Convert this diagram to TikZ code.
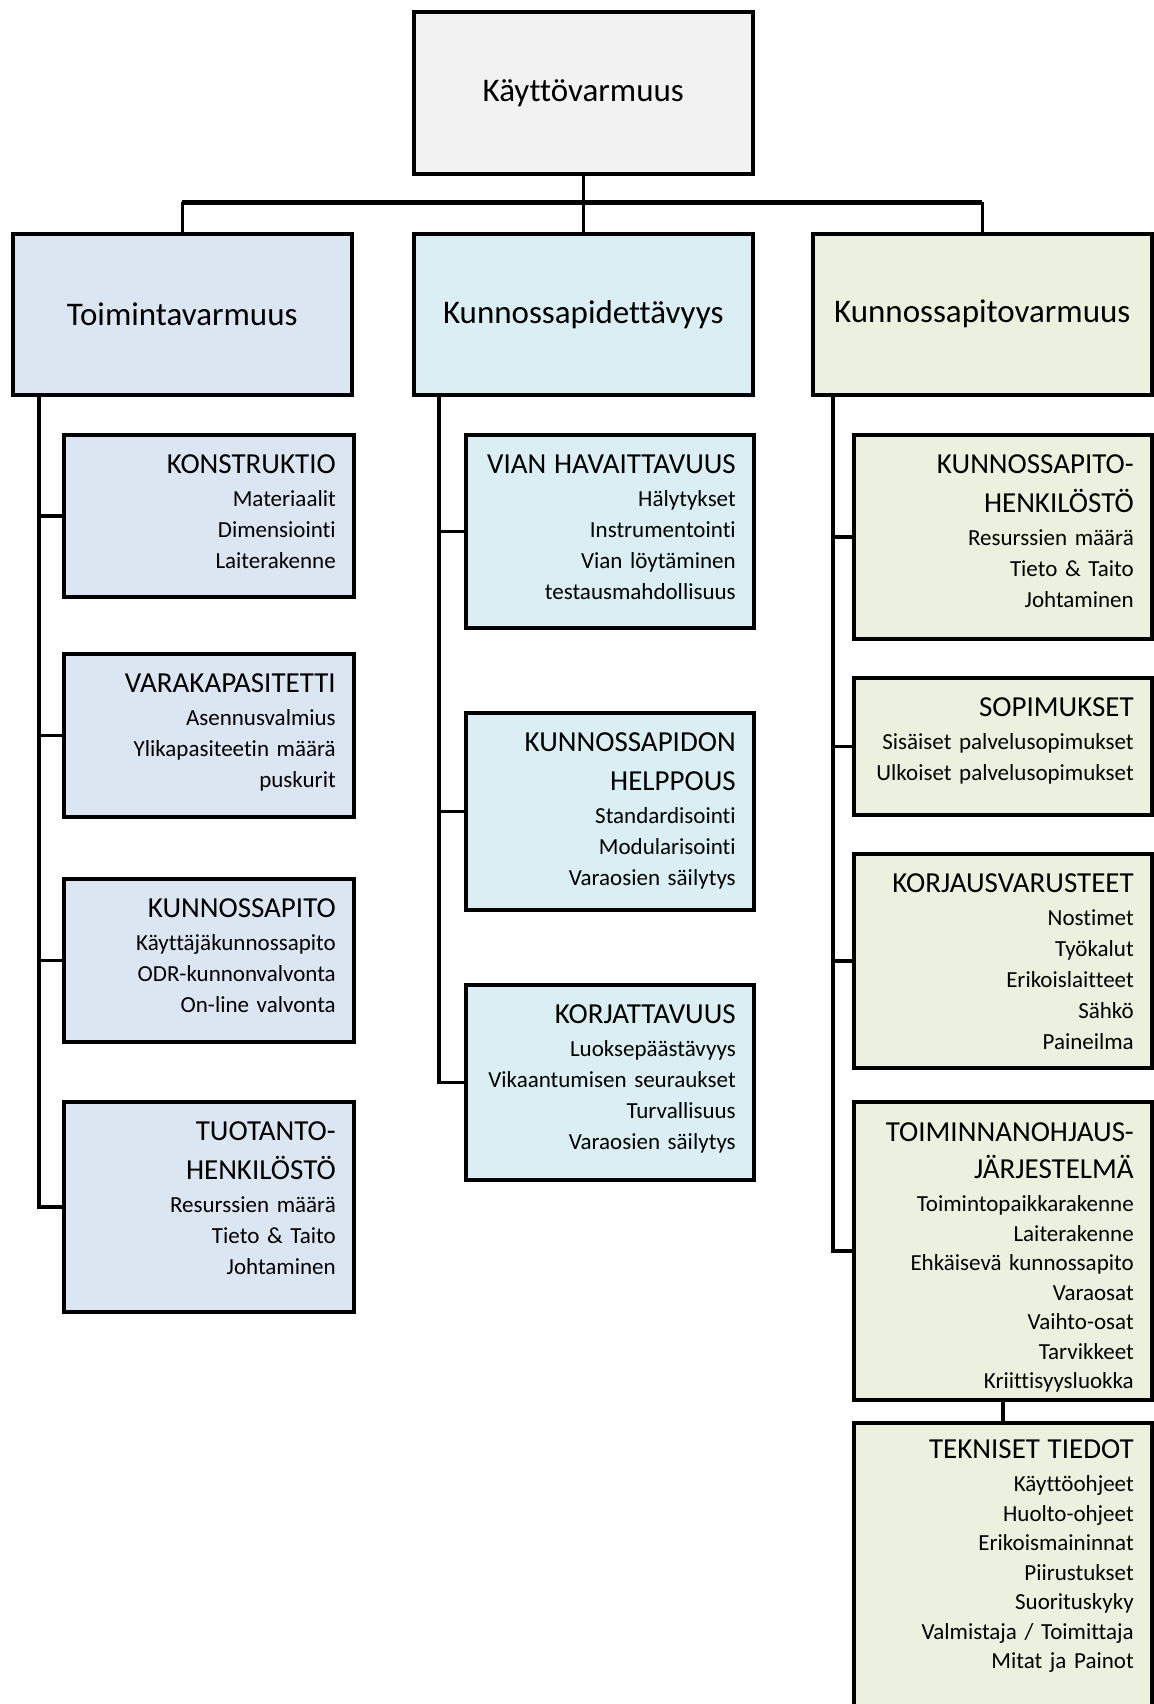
\documentclass[tikz,border=0pt]{standalone}
\usepackage{fontspec}
\setmainfont[Ligatures=CommonOff]{Carlito}
\usepackage{tikz}

\definecolor{topgray}{HTML}{F2F2F2}
\definecolor{leftblue}{HTML}{DCE6F2}
\definecolor{midcyan}{HTML}{DAEEF3}
\definecolor{rightolive}{HTML}{EBF1DE}

\newcommand{\boxhead}[1]{{\fontsize{14.5}{15.5}\selectfont #1}}

\tikzset{
  mainbox/.style={draw,line width=1.75pt,fill=#1,anchor=north west,minimum width=169.5pt,
    minimum height=80.5pt,inner sep=2pt,font=\fontsize{16.5}{20}\selectfont},
  subbox/.style={draw,line width=1.75pt,fill=#1,anchor=north west,align=right,
    inner xsep=9pt,inner ysep=2pt,text height=0pt,font=\fontsize{11.5}{15.5}\selectfont},
  leftbox/.style={subbox=leftblue,text width=127pt},
  midbox/.style={subbox=midcyan,text width=126pt},
  rightbox/.style={subbox=rightolive,text width=131pt},
  tightbox/.style={font=\fontsize{11.5}{14.75}\selectfont},
  link/.style={line width=1.75pt},
  busline/.style={line width=2.5pt},
}

\begin{document}
\begin{tikzpicture}[x=0.5pt,y=-0.5pt]
    \useasboundingbox (0,0) rectangle (1153,1704);
    % top level
    \node[mainbox=topgray,minimum height=81pt] (kayttovarmuus) at (412,10) {Käyttövarmuus};
    \node[mainbox=leftblue] (toimintavarmuus) at (11,232) {Toimintavarmuus};
    \node[mainbox=midcyan] (kpdettavyys) at (412,232) {Kunnossapidettävyys};
    \node[mainbox=rightolive] (kpvarmuus) at (811,232) {Kunnossapitovarmuus};
    % left column
    \node[leftbox,minimum height=81pt,text depth=42pt] (konstruktio) at (62,433)
      {\boxhead{KONSTRUKTIO}\\[1pt] Materiaalit\\ Dimensiointi\\ Laiterakenne};
    \node[leftbox,minimum height=81.5pt,text depth=42.5pt] (varakapasiteetti) at (62,652)
      {\boxhead{VARAKAPASITETTI}\\[1pt] Asennusvalmius\\ Ylikapasiteetin määrä\\ puskurit};
    \node[leftbox,minimum height=81.5pt,text depth=42.5pt] (kunnossapito) at (62,877)
      {\boxhead{KUNNOSSAPITO}\\[1pt] Käyttäjäkunnossapito\\ ODR-kunnonvalvonta\\ On-line valvonta};
    \node[leftbox,minimum height=105pt,text depth=66pt] (tuotanto) at (62,1100)
      {\boxhead{TUOTANTO-}\\[4pt] \boxhead{HENKILÖSTÖ}\\[1pt] Resurssien määrä\\ Tieto \& Taito\\ Johtaminen};
    % middle column
    \node[midbox,minimum height=96.5pt,text depth=57.5pt] (vian) at (464,433)
      {\boxhead{VIAN HAVAITTAVUUS}\\[1pt] Hälytykset\\ Instrumentointi\\ Vian löytäminen\\ testausmahdollisuus};
    \node[midbox,minimum height=98.5pt,text depth=59.5pt] (helppous) at (464,711)
      {\boxhead{KUNNOSSAPIDON}\\[4pt] \boxhead{HELPPOUS}\\[1pt] Standardisointi\\ Modularisointi\\ Varaosien säilytys};
    \node[midbox,minimum height=97.5pt,text depth=58.5pt] (korjattavuus) at (464,983)
      {\boxhead{KORJATTAVUUS}\\[1pt] Luoksepäästävyys\\ Vikaantumisen seuraukset\\ Turvallisuus\\ Varaosien säilytys};
    % right column
    \node[rightbox,minimum height=102pt,text depth=63pt] (kphenkilosto) at (852,433)
      {\boxhead{KUNNOSSAPITO-}\\[4pt] \boxhead{HENKILÖSTÖ}\\[1pt] Resurssien määrä\\ Tieto \& Taito\\ Johtaminen};
    \node[rightbox,minimum height=68.5pt,text depth=29.5pt] (sopimukset) at (852,676)
      {\boxhead{SOPIMUKSET}\\[1pt] Sisäiset palvelusopimukset\\ Ulkoiset palvelusopimukset};
    \node[rightbox,minimum height=107pt,text depth=68pt] (korjausvarusteet) at (852,852)
      {\boxhead{KORJAUSVARUSTEET}\\[1pt] Nostimet\\ Työkalut\\ Erikoislaitteet\\ Sähkö\\ Paineilma};
    \node[rightbox,tightbox,minimum height=149pt,text depth=109pt] (toiminnanohjaus) at (852,1100)
      {\boxhead{TOIMINNANOHJAUS-}\\[3.75pt] \boxhead{JÄRJESTELMÄ}\\[1.75pt] Toimintopaikkarakenne\\ Laiterakenne\\
       Ehkäisevä kunnossapito\\ Varaosat\\ Vaihto-osat\\ Tarvikkeet\\ Kriittisyysluokka};
    \node[rightbox,tightbox,minimum height=154.5pt,text depth=118.5pt] (tekniset) at (852,1421)
      {\boxhead{TEKNISET TIEDOT}\\[1.75pt] Käyttöohjeet\\ Huolto-ohjeet\\ Erikoismaininnat\\ Piirustukset\\
       Suorituskyky\\ Valmistaja / Toimittaja\\ Mitat ja Painot};
    % connectors
    \coordinate (bus) at (0,202);
    \coordinate (lspine) at (39,0);
    \coordinate (mspine) at (439,0);
    \coordinate (rspine) at (833,0);
    \draw[link] (kayttovarmuus.south) -- (kpdettavyys.north);
    \draw[busline] (toimintavarmuus.north |- bus) -- (kpvarmuus.north |- bus);
    \draw[link] (toimintavarmuus.north |- bus) -- (toimintavarmuus.north);
    \draw[link] (kpvarmuus.north |- bus) -- (kpvarmuus.north);
    \foreach \child in {konstruktio,varakapasiteetti,kunnossapito,tuotanto}
      \draw[link] (toimintavarmuus.south -| lspine) |- (\child.west);
    \foreach \child in {vian,helppous,korjattavuus}
      \draw[link] (kpdettavyys.south -| mspine) |- (\child.west);
    \foreach \child in {kphenkilosto,sopimukset,korjausvarusteet,toiminnanohjaus}
      \draw[link] (kpvarmuus.south -| rspine) |- (\child.west);
    \draw[link] (toiminnanohjaus.south) -- (tekniset.north);
\end{tikzpicture}
\end{document}
